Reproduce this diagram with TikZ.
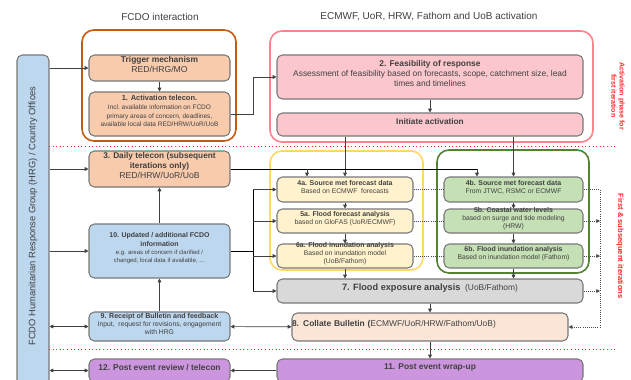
\documentclass[tikz,border=0pt]{standalone}
\usepackage{fontspec}
\setmainfont{Liberation Sans}
\usetikzlibrary{fit,arrows.meta}

\definecolor{ocbord}{RGB}{197,90,17}
\definecolor{ocfill}{RGB}{248,203,173}
\definecolor{pkbord}{RGB}{255,130,140}
\definecolor{pkfill}{RGB}{251,198,204}
\definecolor{ylbord}{RGB}{255,217,102}
\definecolor{ylfill}{RGB}{255,242,204}
\definecolor{gnbord}{RGB}{84,130,53}
\definecolor{gnfill}{RGB}{197,224,180}
\definecolor{gyfill}{RGB}{217,217,217}
\definecolor{pcfill}{RGB}{251,229,214}
\definecolor{ppfill}{RGB}{204,150,222}
\definecolor{blfill}{RGB}{189,215,238}
\definecolor{bxbord}{RGB}{120,120,120}
\definecolor{txtgray}{RGB}{64,64,64}
\definecolor{redline}{RGB}{255,40,40}

\tikzset{
  grp/.style={draw=#1, line width=1.2pt, rounded corners=9pt, inner sep=0pt},
  box/.style={draw=bxbord, line width=0.8pt, rounded corners=4pt, inner sep=0pt,
    align=center, text=txtgray, font=\fontsize{5.1}{6}\selectfont},
  link/.style={line width=0.5pt, draw=black!75, ->},
  dlink/.style={line width=0.5pt, draw=black!75, <->},
  dotlink/.style={densely dotted, line width=0.6pt, draw=black!70},
  redsep/.style={draw=redline, dotted, line width=0.7pt},
  redlbl/.style={rotate=-90, text=redline, align=center},
}
% bold heading: size, leading, text
\newcommand{\bhd}[3]{{\fontsize{#1}{#2}\selectfont\bfseries #3}}

\begin{document}
\begin{tikzpicture}[x=0.75pt,y=0.75pt,yscale=-1,xscale=1,>={Triangle[length=2.8pt,width=2.8pt]}]
\useasboundingbox (0,0) rectangle (631,379);

% headings
\node[text=txtgray, font=\fontsize{7.5}{9}\selectfont] (ttlfcdo) at (160,17) {FCDO interaction};
\node[text=txtgray, font=\fontsize{7.5}{9}\selectfont] (ttlpart) at (429,17) {ECMWF, UoR, HRW, Fathom and UoB activation};

% group frames
\node[grp=ocbord, fit={(82,30) (236,141)}] (grpfcdo) {};
\node[grp=pkbord, fit={(270,31) (593,142)}] (grpact) {};
\node[grp=ylbord, fit={(270,151) (423,270)}] (grpriv) {};
\node[grp=gnbord, fit={(437,150) (589,273)}] (grpcst) {};

% FCDO column
\node[box, fill=blfill, fit={(17,55) (49,395)}] (fcdo) {};
\node[rotate=90, text=txtgray, font=\fontsize{7}{8}\selectfont] (fcdolbl) at (33,216) {FCDO Humanitarian Response Group (HRG) / Country Offices};

\node[box, font=\fontsize{6.5}{7.5}\selectfont, fill=ocfill, fit={(89,55) (230,81)}] (trig) {\bhd{6.3}{7.5}{Trigger mechanism}\\RED/HRG/MO};
\node[box, font=\fontsize{4.9}{6.5}\selectfont, fill=ocfill, fit={(89,92) (230,136)}] (act) {\bhd{5.6}{6.5}{1. Activation telecon.}\\Incl.\ available information on FCDO\\primary areas of concern, deadlines,\\available local data RED/HRW/UoR/UoB};
\node[box, font=\fontsize{6.5}{7.5}\selectfont, fill=ocfill, fit={(89,151) (230,187)}] (daily) {\bhd{6.2}{7.5}{3. Daily telecon (subsequent}\\\bhd{6.2}{7.5}{iterations only)}\\RED/HRW/UoR/UoB};
\node[box, font=\fontsize{4.5}{6.3}\selectfont, fill=blfill, fit={(89,224) (230,278)}] (upd) {\bhd{5.2}{6.3}{10. Updated / additional FCDO}\\\bhd{5.2}{6.3}{information}\\e.g. areas of concern if clarified /\\changed, local data if available, \dots};
\node[box, font=\fontsize{5.1}{6.3}\selectfont, fill=blfill, fit={(89,312) (230,341)}] (fb) {\bhd{5.3}{6.3}{9. Receipt of Bulletin and feedback}\\Input,\ \ request for revisions, engagement\\with HRG};
\node[box, fill=ppfill, fit={(89,359) (230,382)}] (review) {\bhd{6.3}{7.5}{12. Post event review / telecon}};

% activation
\node[box, font=\fontsize{6.3}{7.5}\selectfont, fill=pkfill, fit={(277,55) (583,99)}] (feas) {\bhd{6.3}{7.5}{2. Feasibility of response}\\Assessment of feasibility based on forecasts, scope, catchment size, lead\\times and timelines};
\node[box, fill=pkfill, fit={(277,113) (583,136)}] (init) {\bhd{6.2}{7.5}{Initiate activation}};

% river branch
\node[box, fill=ylfill, fit={(277,177) (413,202)}] (src4a) {\bhd{5.2}{6}{4a. Source met forecast data}\\Based on ECMWF\ \ forecasts};
\node[box, fill=ylfill, fit={(277,209) (413,233)}] (ffa) {\bhd{5.2}{6}{5a. Flood forecast analysis}\\based on GloFAS (UoR/ECMWF)};
\node[box, fill=ylfill, fit={(277,244) (413,268)}] (inun6a) {\bhd{5.2}{6}{6a. Flood inundation analysis}\\Based on inundation model\\(UoB/Fathom)};

% coastal branch
\node[box, fill=gnfill, fit={(444,177) (583,202)}] (src4b) {\bhd{5.2}{6}{4b. Source met forecast data}\\From JTWC, RSMC or ECMWF};
\node[box, fill=gnfill, fit={(444,209) (583,233)}] (cst5b) {\bhd{5.2}{6}{5b. Coastal water levels}\\based on surge and tide modeling\\(HRW)};
\node[box, fill=gnfill, fit={(444,244) (583,268)}] (inun6b) {\bhd{5.2}{6}{6b. Flood inundation analysis}\\Based on inundation model (Fathom)};

% common steps
\node[box, font=\fontsize{6.3}{7.5}\selectfont, fill=gyfill, fit={(277,279) (583,303)}] (expo) {\bhd{6.9}{7.5}{7. Flood exposure analysis} \ (UoB/Fathom)};
\node[box, font=\fontsize{6.3}{7.5}\selectfont, fill=pcfill, fit={(277,313) (583,341)}, text width=207pt, align=left] (coll) {\bhd{6.3}{7.5}{8. Collate Bulletin (}ECMWF/UoR/HRW/Fathom/UoB)};
\node[box, fill=ppfill, fit={(277,359) (583,382)}] (wrap) {\bhd{6.3}{7.5}{11. Post event wrap-up}};

% phase labels
\node[redlbl, font=\fontsize{5.3}{6.3}\selectfont\bfseries] (lblfirst) at (618,96) {Activation phase for\\first iteration};
\node[redlbl, font=\fontsize{5.7}{6.5}\selectfont\bfseries] (lblnext) at (620,246) {First \& subsequent iterations};
\draw[redsep] (49,146) -- (615,146);
\draw[redsep] (49,349) -- (615,349);

% junctions
\coordinate (ja) at (307,169);
\coordinate (jb) at (477,169);
\coordinate (bus) at (253,251);
\coordinate (rx) at (600,0);

% FCDO side links
\draw[link] (fcdo.east |- trig.west) -- (trig.west);
\draw[link] (trig) -- (act);
\draw[link] (act.east) -- ++(23,0) |- (feas.west);
\draw[link] (fcdo.east |- daily.west) -- (daily.west);
\draw[link] (fcdo.east |- upd.west) -- (upd.west);
\draw[link] (upd) -- (daily);
\draw[link] (fb) -- (upd);
\draw[dlink] (fcdo.east |- fb.west) -- (fb.west);
\draw[dlink] (fb) -- (coll);
\draw[dlink] (fcdo.east |- review.west) -- (review.west);
\draw[link] (wrap) -- (review);

% activation links
\draw[link] (feas) -- (init);
\draw[link] (init.south -| src4a.north) -- (src4a.north);
\draw[link] (init.south -| src4b.north) -- (src4b.north);
\draw (daily.east) -- (jb);
\draw[link] (ja) -- (ja |- src4a.north);
\draw[link] (jb) -- (jb |- src4b.north);

% update bus
\draw (upd.east) -- (bus);
\draw (bus |- src4a.west) -- (bus |- expo.west);
\draw[link] (bus |- src4a.west) -- (src4a.west);
\draw[link] (bus |- ffa.west) -- (ffa.west);
\draw[link] (bus |- inun6a.west) -- (inun6a.west);
\draw[link] (bus |- expo.west) -- (expo.west);

% chains
\draw[link] (src4a) -- (ffa);
\draw[link] (ffa) -- (inun6a);
\draw[link] (inun6a.south) -- (inun6a.south |- expo.north);
\draw[link] (src4b) -- (cst5b);
\draw[link] (cst5b) -- (inun6b);
\draw[link] (inun6b.south) -- (inun6b.south |- expo.north);
\draw[link] (expo) -- (coll);
\draw[link] (coll) -- (wrap);

% dotted exchanges
\draw[dotlink] (src4a) -- (src4b);
\draw[dotlink] (ffa) -- (cst5b);
\draw[dotlink] (inun6a) -- (inun6b);
\draw[dotlink, ->] (src4b.east) -- (src4b.east -| rx) -- (coll.east -| rx) -- (coll.east);
\draw[dotlink, ->] (cst5b.east) -- (cst5b.east -| rx);
\draw[dotlink, ->] (inun6b.east) -- (inun6b.east -| rx);
\draw[dotlink, ->] (expo.east) -- (expo.east -| rx);

\end{tikzpicture}
\end{document}
